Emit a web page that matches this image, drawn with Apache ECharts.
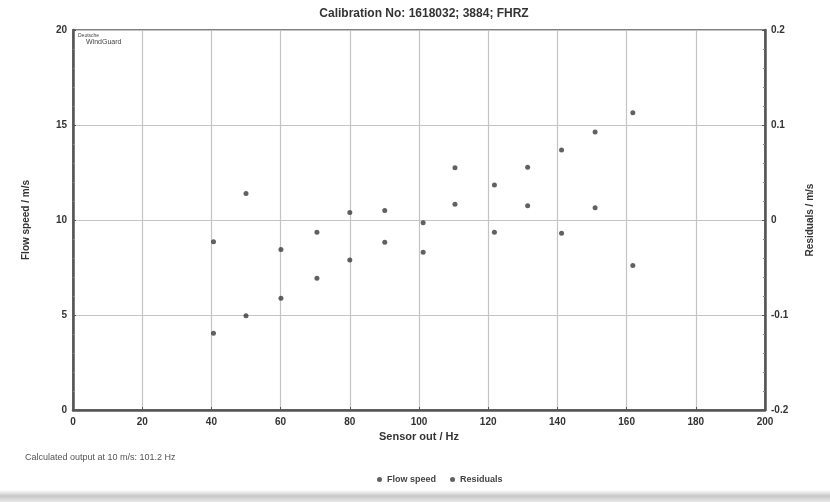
<!DOCTYPE html>
<html>
<head>
<meta charset="utf-8">
<script src="https://cdn.jsdelivr.net/npm/echarts@6/dist/echarts.min.js"></script>
<style>
	html, body { margin: 0; padding: 0; background: #fff; }
	#chart { width: 830px; height: 502px; }
</style>
</head>
<body>
<div id="chart"></div>
<script>
	// sensor frequency (Hz) of each calibration point
	var freqHz = [40.6, 50.0, 60.1, 70.5, 80.0, 90.1, 101.2, 110.4, 121.8, 131.4, 141.2, 150.9, 161.8];
	// flow speed (m/s), left axis
	var flowSpeed = [4.04, 4.96, 5.88, 6.93, 7.89, 8.83, 9.86, 10.83, 11.84, 12.77, 13.68, 14.63, 15.65];
	// residuals (m/s), right axis
	var residuals = [-0.023, 0.028, -0.031, -0.013, 0.008, 0.010, -0.034, 0.055, -0.013, 0.015, -0.014, 0.013, -0.048];

	var titleText = 'Calibration No: 1618032; 3884; FHRZ';
	var noteText = 'Calculated output at 10 m/s: 101.2 Hz';

	var fontName = '"Liberation Sans", Arial, sans-serif';
	var dotColor = '#3a3a3a';

	function pairs(xs, ys){
		var out = [];
		for(var i=0;i<xs.length;i++){
			out.push([xs[i], ys[i]]);
		}
		return out;
	}

	var chart = echarts.init(document.getElementById('chart'));

	var gridLine = {   //网格线
		show: true,
		lineStyle: { color: '#c4c4c4', width: 1.2, type: 'solid' }
	};

	var option = {
		backgroundColor: '#fff',
		animation: false,
		title: {
			text: titleText,
			left: 419,
			top: 3,
			textAlign: 'center',
			textStyle: { fontFamily: fontName, fontSize: 12, fontWeight: 'bold', color: '#333' }
		},
		grid: {
			left: 73,
			right: 65,
			top: 30,
			bottom: 92,
			show: true,
			borderColor: '#555',
			borderWidth: 1.5
		},
		legend: {
			left: 372,
			top: 470,
			itemWidth: 5,
			itemHeight: 5,
			itemGap: 14,
			textStyle: { fontFamily: fontName, fontSize: 9, fontWeight: 'bold', color: '#444' },
			data: [
				{ name: 'Flow speed', icon: 'circle' },
				{ name: 'Residuals', icon: 'circle' }
			]
		},
		xAxis: {
			type: 'value',
			min: 0,
			max: 200,
			interval: 20,
			name: 'Sensor out / Hz',
			nameLocation: 'middle',
			nameGap: 17,
			nameTextStyle: { fontFamily: fontName, fontSize: 11, fontWeight: 'bold', color: '#333' },
			axisLine: { onZero: false, lineStyle: { color: '#555', width: 2.5 } },
			axisTick: { show: true, inside: true, length: 3, lineStyle: { color: '#555' } },
			axisLabel: { fontFamily: fontName, fontSize: 10, fontWeight: 'bold', color: '#333', margin: 7 },
			splitLine: gridLine
		},
		yAxis: [{
			type: 'value',
			min: 0,
			max: 20,
			interval: 5,
			name: 'Flow speed / m/s',
			nameLocation: 'middle',
			nameGap: 42,
			nameTextStyle: { fontFamily: fontName, fontSize: 10, fontWeight: 'bold', color: '#333' },
			axisLine: { show: true, lineStyle: { color: '#555', width: 2.5 } },
			axisTick: { show: true, inside: true, length: 3, lineStyle: { color: '#555' } },
			minorTick: { show: true, splitNumber: 5, length: 2, lineStyle: { color: '#888' } },
			axisLabel: { fontFamily: fontName, fontSize: 10, fontWeight: 'bold', color: '#333', margin: 6 },
			splitLine: gridLine
		}, {
			type: 'value',
			min: -0.2,
			max: 0.2,
			interval: 0.1,
			position: 'right',
			name: 'Residuals / m/s',
			nameLocation: 'middle',
			nameGap: 40,
			nameRotate: 90,
			nameTextStyle: { fontFamily: fontName, fontSize: 10, fontWeight: 'bold', color: '#333' },
			axisLine: { show: true, lineStyle: { color: '#555', width: 2.5 } },
			axisTick: { show: true, inside: true, length: 3, lineStyle: { color: '#555' } },
			minorTick: { show: true, splitNumber: 5, length: 2, lineStyle: { color: '#888' } },
			axisLabel: { fontFamily: fontName, fontSize: 10, fontWeight: 'bold', color: '#333', margin: 6 },
			splitLine: { show: false }
		}],
		graphic: [
			{   //左上角标志
				type: 'text',
				left: 78,
				top: 33,
				style: { text: 'Deutsche', fontFamily: fontName, fontSize: 5, fill: '#444' }
			},
			{
				type: 'text',
				left: 86,
				top: 39,
				style: { text: 'WindGuard', fontFamily: fontName, fontSize: 7, fill: '#444' }
			},
			{
				type: 'text',
				left: 25,
				top: 453,
				style: { text: noteText, fontFamily: fontName, fontSize: 9, fill: '#555' }
			},
			{   //扫描底部阴影
				type: 'rect',
				left: 0,
				top: 490,
				shape: { width: 830, height: 12 },
				style: {
					fill: {
						type: 'linear', x: 0, y: 0, x2: 0, y2: 1,
						colorStops: [{ offset: 0, color: '#ffffff' }, { offset: 0.5, color: '#c8c8c8' }, { offset: 1, color: '#e8e8e8' }]
					}
				}
			}
		],
		series: [{
			name: 'Flow speed',
			type: 'scatter',
			yAxisIndex: 0,
			symbol: 'circle',
			symbolSize: 5,
			itemStyle: { color: dotColor },
			data: pairs(freqHz, flowSpeed)
		}, {
			name: 'Residuals',
			type: 'scatter',
			yAxisIndex: 1,
			symbol: 'circle',
			symbolSize: 5,
			itemStyle: { color: dotColor },
			data: pairs(freqHz, residuals)
		}]
	};

	chart.setOption(option);
</script>
</body>
</html>
